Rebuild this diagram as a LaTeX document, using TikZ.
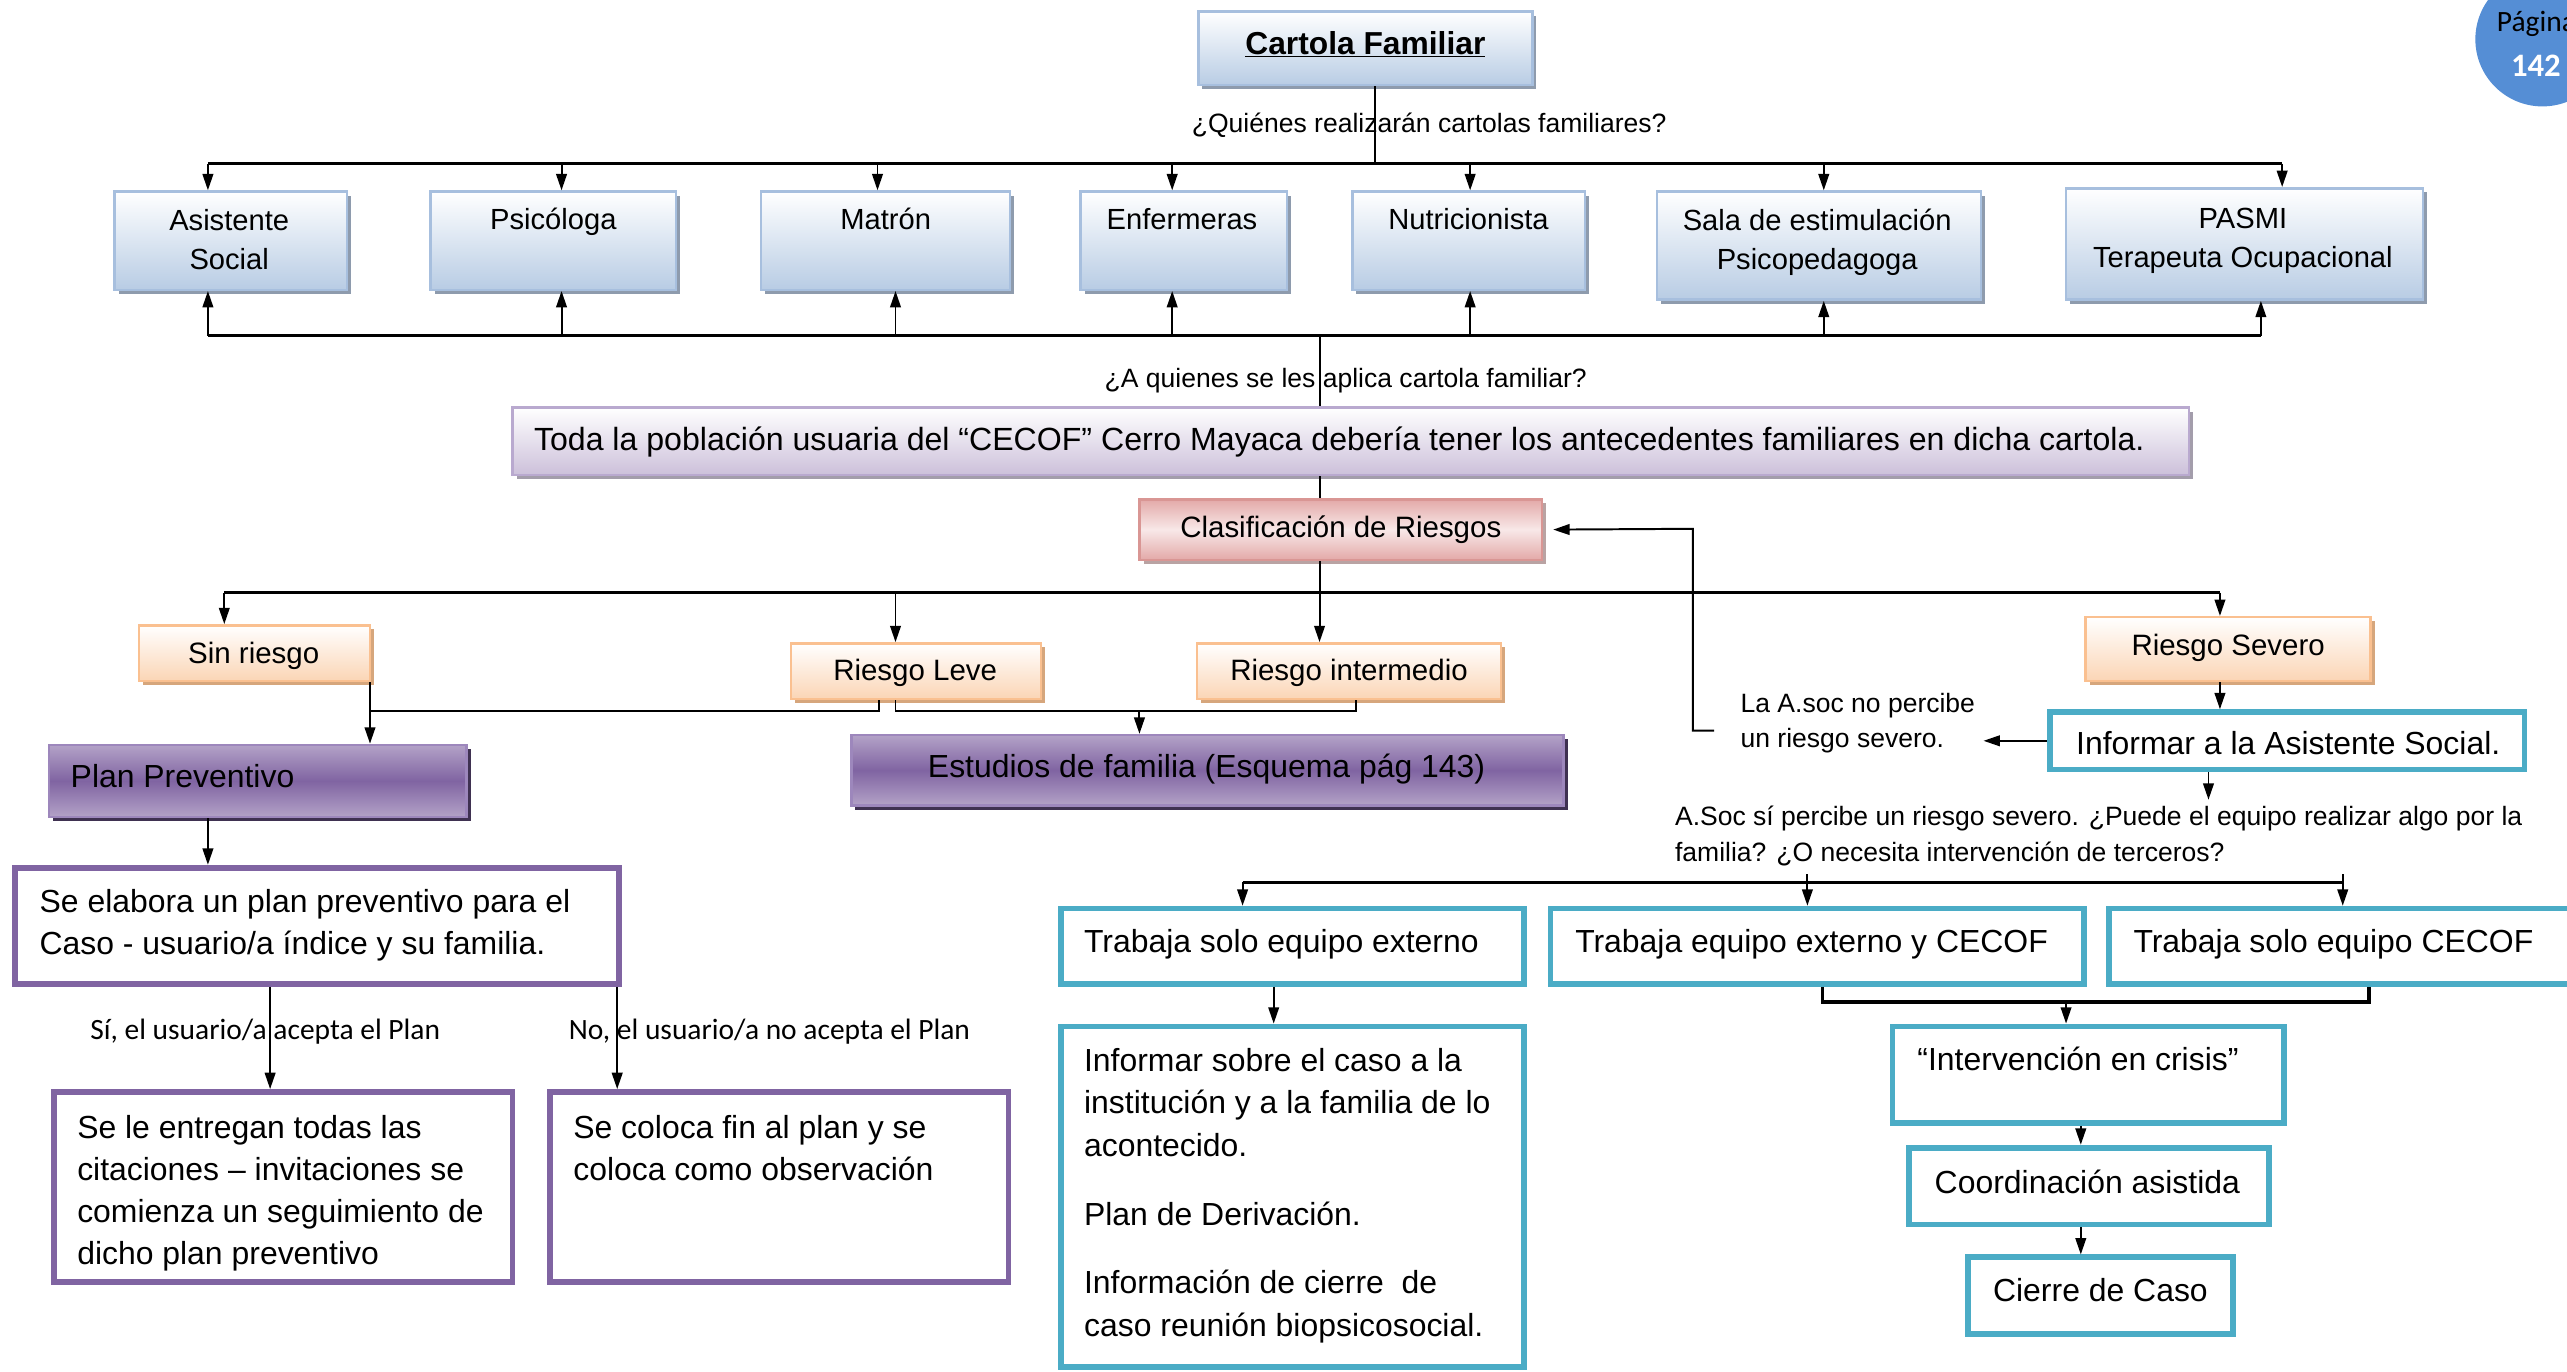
\documentclass[tikz,border=0pt]{standalone}
\usepackage{fontspec}
\setmainfont{Liberation Sans}
\newfontfamily\calfont{Carlito}
\usetikzlibrary{arrows.meta,shadows,fit}
\definecolor{bluebot}{HTML}{B8CCE4}
\definecolor{blueedge}{HTML}{A7BFDE}
\definecolor{blueshd}{HTML}{8E9BAD}
\definecolor{lavbot}{HTML}{CCC0DA}
\definecolor{lavedge}{HTML}{B9A9CF}
\definecolor{lavshd}{HTML}{A39DAB}
\definecolor{pinktop}{HTML}{E3A9A8}
\definecolor{pinkmid}{HTML}{F8E8E8}
\definecolor{pinkedge}{HTML}{D99694}
\definecolor{pinkshd}{HTML}{B9A3A3}
\definecolor{peachbot}{HTML}{FBD5B5}
\definecolor{peachedge}{HTML}{FAC090}
\definecolor{peachshd}{HTML}{D6A67C}
\definecolor{purlight}{HTML}{B3A2C7}
\definecolor{purdark}{HTML}{8064A2}
\definecolor{puredge}{HTML}{9D87BC}
\definecolor{purshd}{HTML}{3F3151}
\definecolor{teal}{HTML}{4BACC6}
\definecolor{pageblue}{HTML}{558ED5}
\newcommand\fsA{\fontsize{17.8}{24}\selectfont}
\newcommand\fsB{\fontsize{18}{24}\selectfont}
\newcommand\fsC{\fontsize{19.5}{25.7}\selectfont}
\newcommand\fsS{\fontsize{16.2}{21}\selectfont}
\begin{document}
\begin{tikzpicture}[x=1pt,y=-1pt,
  bx/.style={rectangle, inner sep=0pt},
  blueg/.style={bx, top color=white, bottom color=bluebot, draw=blueedge, line width=1.5pt,
    drop shadow={shadow xshift=2.5pt, shadow yshift=-2.5pt, fill=blueshd, opacity=1}},
  lavg/.style={bx, top color=white, bottom color=lavbot, draw=lavedge, line width=1.5pt,
    drop shadow={shadow xshift=2.5pt, shadow yshift=-2.5pt, fill=lavshd, opacity=1}},
  pinkg/.style={bx, top color=pinktop, bottom color=pinktop, middle color=pinkmid, draw=pinkedge, line width=1.5pt,
    drop shadow={shadow xshift=2.5pt, shadow yshift=-2.5pt, fill=pinkshd, opacity=1}},
  peachg/.style={bx, top color=white, bottom color=peachbot, draw=peachedge, line width=1.5pt,
    drop shadow={shadow xshift=2.5pt, shadow yshift=-2.5pt, fill=peachshd, opacity=1}},
  purg/.style={bx, top color=purlight, bottom color=purlight, middle color=purdark, draw=puredge, line width=1.5pt,
    drop shadow={shadow xshift=2.5pt, shadow yshift=-2.5pt, fill=purshd, opacity=1}},
  purb/.style={bx, fill=white, draw=purdark, line width=3.5pt},
  tealb/.style={bx, fill=white, draw=teal, line width=3.5pt},
  tx/.style={inner sep=0pt},
  ln/.style={line width=1.2pt, black},
  bus/.style={line width=2pt, black},
  arr/.style={ln, -{Triangle[length=10pt,width=6.5pt]}}
]
\useasboundingbox (0,0) rectangle (1568,838);
\begin{scope}
\clip (0,0) rectangle (1568,838);

% page marker
\fill[pageblue] (1553,24) circle (41pt);
\node[tx, anchor=base west, font=\calfont\fontsize{18}{20}\selectfont] (pag) at (1525,19) {Página};
\node[tx, anchor=base, text=white, font=\calfont\bfseries\fontsize{20}{22}\selectfont] (pnum) at (1549,47) {142};

% ---------- boxes ----------
\node[blueg, fit={(732,7)(936,52)}] (cartola) {};
\node[blueg, fit={(70,117)(212,177)}] (asis) {};
\node[blueg, fit={(263,117)(413,177)}] (psic) {};
\node[blueg, fit={(465,117)(617,177)}] (matr) {};
\node[blueg, fit={(660,117)(786,177)}] (enfe) {};
\node[blueg, fit={(826,117)(968,177)}] (nutr) {};
\node[blueg, fit={(1012,117)(1210,183)}] (sala) {};
\node[blueg, fit={(1262,115)(1480,183)}] (pasmi) {};

\node[lavg, fit={(313,249)(1337,290)}] (toda) {};
\node[pinkg, fit={(696,305)(942,342)}] (clas) {};

\node[peachg, fit={(85,382)(226,416)}] (sinr) {};
\node[peachg, fit={(483,393)(636,427)}] (leve) {};
\node[peachg, fit={(731,393)(917,427)}] (inter) {};
\node[peachg, fit={(1274,377)(1448,416)}] (sev) {};

\node[purg, fit={(30,455)(285,499)}] (plan) {};
\node[purg, fit={(520,449)(955,492)}] (estu) {};

\node[purb, fit={(9,530)(378,601)}] (elab) {};
\node[purb, fit={(33,667)(313,783)}] (entr) {};
\node[purb, fit={(336,667)(616,783)}] (coloca) {};

\node[tealb, fit={(1252,435)(1542,470)}] (infas) {};
\node[tealb, fit={(648,555)(931,601)}] (tse) {};
\node[tealb, fit={(947,555)(1273,601)}] (tec) {};
\node[tealb, fit={(1288,555)(1600,601)}] (tsc) {};
\node[tealb, fit={(648,627)(931,835)}] (inf2) {};
\node[tealb, fit={(1156,627)(1395,686)}] (crisis) {};
\node[tealb, fit={(1166,701)(1386,748)}] (coord) {};
\node[tealb, fit={(1202,768)(1364,815)}] (cierre) {};

% ---------- texts ----------
\node[tx, anchor=base, font=\bfseries\fontsize{19.4}{24}\selectfont] (cartola-t) at (834,33) {\underline{Cartola Familiar}};
\node[tx, anchor=base, font=\fsS] (q1) at (873,80.8) {¿Quiénes realizarán cartolas familiares?};
\node[tx, anchor=north, align=center, font=\fsA] (asis-t) at (140,123.6) {\strut Asistente\\Social};
\node[tx, anchor=base, font=\fsA] (psic-t) at (338,140.4) {Psicóloga};
\node[tx, anchor=base, font=\fsA] (matr-t) at (541,140.4) {Matrón};
\node[tx, anchor=base, font=\fsA] (enfe-t) at (722,140.4) {Enfermeras};
\node[tx, anchor=base, font=\fsA] (nutr-t) at (897,140.4) {Nutricionista};
\node[tx, anchor=north, align=center, font=\fsA] (sala-t) at (1110,123.6) {\strut Sala de estimulación\\Psicopedagoga};
\node[tx, anchor=north, align=center, font=\fsA] (pasmi-t) at (1370,122.6) {\strut PASMI\\Terapeuta Ocupacional};

\node[tx, anchor=base, font=\fsS] (q2) at (822,236.8) {¿A quienes se les aplica cartola familiar?};
\node[tx, anchor=base west, font=\fontsize{19.6}{24}\selectfont] (toda-t) at (326,275) {Toda la población usuaria del “CECOF” Cerro Mayaca debería tener los antecedentes familiares en dicha cartola.};
\node[tx, anchor=base, font=\fsB] (clas-t) at (819,328.5) {Clasificación de Riesgos};

\node[tx, anchor=base, font=\fsB] (sinr-t) at (155,405.5) {Sin riesgo};
\node[tx, anchor=base, font=\fsB] (leve-t) at (559,415.5) {Riesgo Leve};
\node[tx, anchor=base, font=\fsB] (inter-t) at (824,415.5) {Riesgo intermedio};
\node[tx, anchor=base, font=\fsB] (sev-t) at (1361,400.5) {Riesgo Severo};

\node[tx, anchor=base west, font=\fsC] (plan-t) at (43,481) {Plan Preventivo};
\node[tx, anchor=base, font=\fsC] (estu-t) at (737,475) {Estudios de familia (Esquema pág 143)};

\node[tx, anchor=north west, align=left, font=\fsC] (elab-t) at (24,539) {\strut Se elabora un plan preventivo para el\\Caso - usuario/a índice y su familia.};
\node[tx, anchor=base, font=\calfont\fontsize{18}{21}\selectfont] (si) at (162,635) {Sí, el usuario/a acepta el Plan};
\node[tx, anchor=base, font=\calfont\fontsize{18}{21}\selectfont] (no) at (470,635) {No, el usuario/a no acepta el Plan};
\node[tx, anchor=north west, align=left, font=\fsC] (entr-t) at (47,677) {\strut Se le entregan todas las\\citaciones – invitaciones se\\comienza un seguimiento de\\dicho plan preventivo};
\node[tx, anchor=north west, align=left, font=\fsC] (coloca-t) at (350,677) {\strut Se coloca fin al plan y se\\coloca como observación};

\node[tx, anchor=north west, align=left, font=\fsS] (noper) at (1063,420.5) {\strut La A.soc no percibe\\un riesgo severo.};
\node[tx, anchor=base west, font=\fsC] (infas-t) at (1268,461) {Informar a la Asistente Social.};
\node[tx, anchor=north west, align=left, font=\fontsize{16.2}{22}\selectfont] (asoc) at (1023,488.5) {\strut A.Soc sí percibe un riesgo severo. ¿Puede el equipo realizar algo por la\\familia? ¿O necesita intervención de terceros?};

\node[tx, anchor=base west, font=\fsC] (tse-t) at (662,582) {Trabaja solo equipo externo};
\node[tx, anchor=base west, font=\fsC] (tec-t) at (962,582) {Trabaja equipo externo y CECOF};
\node[tx, anchor=base west, font=\fsC] (tsc-t) at (1303,582) {Trabaja solo equipo CECOF};
\node[tx, anchor=north west, align=left, font=\fontsize{19.5}{26}\selectfont] (inf2-t) at (662,636) {\strut Informar sobre el caso a la\\institución y a la familia de lo\\acontecido.\\[16pt]Plan de Derivación.\\[16pt]Información de cierre~ de\\caso reunión biopsicosocial.};
\node[tx, anchor=base west, font=\fsC] (crisis-t) at (1171,654) {“Intervención en crisis”};
\node[tx, anchor=base, font=\fsC] (coord-t) at (1275,729) {Coordinación asistida};
\node[tx, anchor=base, font=\fsC] (cierre-t) at (1283,795) {Cierre de Caso};

% ---------- connectors ----------
\coordinate (t0) at (840,100);
\draw[ln] (cartola.south -| t0) -- (t0);
\coordinate (tl) at (127,100);
\coordinate (tr) at (1394,100);
\draw[bus] (tl) -- (tr);
\foreach \x/\n in {127/asis,343/psic,536/matr,716/enfe,898/nutr,1114/sala,1394/pasmi}{
  \coordinate (u\n) at (\x,100);
  \draw[arr] (u\n) -- (u\n |- \n.north);
}
\coordinate (bl) at (127,205);
\coordinate (br) at (1381,205);
\draw[bus] (bl) -- (br);
\foreach \x/\n in {127/asis,343/psic,547/matr,716/enfe,898/nutr,1114/sala,1381/pasmi}{
  \coordinate (d\n) at (\x,205);
  \draw[arr] (d\n) -- (d\n |- \n.south);
}
\coordinate (m0) at (806,205);
\draw[ln] (m0) -- (m0 |- toda.north);
\draw[ln] (m0 |- toda.south) -- (m0 |- clas.north);
\coordinate (r0) at (806,362);
\draw[ln] (m0 |- clas.south) -- (r0);
\coordinate (rl) at (137,362);
\coordinate (rr) at (1356,362);
\draw[bus] (rl) -- (rr);
\foreach \x/\n in {137/sinr,547/leve,806/inter,1356/sev}{
  \coordinate (w\n) at (\x,362);
  \draw[arr] (w\n) -- (w\n |- \n.north);
}
\coordinate (s0) at (226,434);
\draw[arr] (s0 |- sinr.south) -- (s0 |- plan.north);
\coordinate (l1) at (537,434);
\draw[ln] (l1 |- leve.south) -- (l1) -- (s0);
\coordinate (l2) at (547,434);
\coordinate (l3) at (828,434);
\draw[ln] (l2 |- leve.south) -- (l2) -- (l3) -- (l3 |- inter.south);
\coordinate (e0) at (696,434);
\draw[arr] (e0) -- (e0 |- estu.north);

\coordinate (p0) at (127,0);
\draw[arr] (p0 |- plan.south) -- (p0 |- elab.north);
\coordinate (p1) at (165,0);
\draw[arr] (p1 |- elab.south) -- (p1 |- entr.north);
\coordinate (p2) at (377,0);
\draw[arr] (p2 |- elab.south) -- (p2 |- coloca.north);

\coordinate (v0) at (1356,0);
\draw[arr] (v0 |- sev.south) -- (v0 |- infas.north);
\draw[arr] (infas.west) -- ([xshift=5pt]noper.east |- infas.west);
\coordinate (rt) at (1034,323);
\draw[arr] ([xshift=-16pt,yshift=-6pt]noper.west) -| (rt) -- ([xshift=6pt]clas.east);
\coordinate (i0) at (1349,0);
\draw[arr] (i0 |- infas.south) -- (i0 |- asoc.north);

\coordinate (ql) at (759,539);
\coordinate (qr) at (1431,539);
\draw[bus] (ql) -- (qr);
\draw[arr] (ql) -- (ql |- tse.north);
\coordinate (qm) at (1104,534);
\draw[arr] (qm) -- (qm |- tec.north);
\coordinate (qr2) at (1431,534);
\draw[arr] (qr2) -- (qr2 |- tsc.north);

\coordinate (x0) at (778,0);
\draw[arr] (x0 |- tse.south) -- (x0 |- inf2.north);
\coordinate (j1) at (1113,612);
\coordinate (j2) at (1447,612);
\draw[bus] (j1 |- tec.south) -- (j1) -- (j2) -- (j2 |- tsc.south);
\coordinate (j0) at (1262,612);
\draw[arr] (j0) -- (j0 |- crisis.north);
\coordinate (k0) at (1271,0);
\draw[arr] (k0 |- crisis.south) -- (k0 |- coord.north);
\draw[arr] (k0 |- coord.south) -- (k0 |- cierre.north);
\end{scope}
\end{tikzpicture}
\end{document}
